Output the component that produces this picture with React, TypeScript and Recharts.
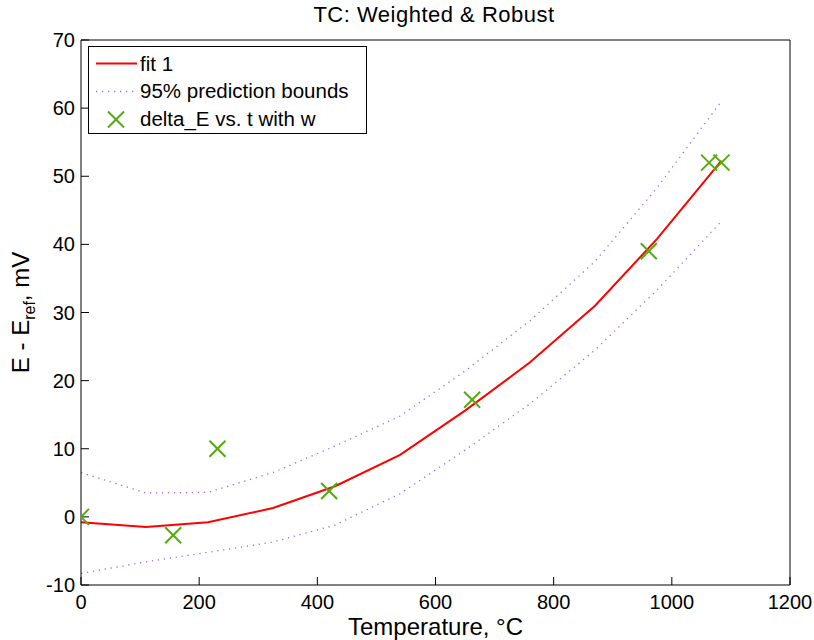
import React from "react";
import { ComposedChart, Line, Scatter, XAxis, YAxis } from "recharts";

// fit curve and 95% prediction bounds, sampled along temperature
const fitT = [0, 110, 215, 325, 430, 540, 650, 760, 870, 975, 1084];
const fitE = [-0.8, -1.5, -0.8, 1.3, 4.5, 9.1, 15.6, 22.7, 31.0, 40.8, 52.3];
const upperE = [6.5, 3.5, 3.6, 6.5, 10.4, 14.8, 21.4, 28.8, 37.5, 48.3, 61.0];
const lowerE = [-8.3, -6.6, -5.2, -3.7, -1.2, 3.4, 9.8, 16.6, 24.5, 33.3, 43.4];

// measured points (delta_E vs. t)
const ptT = [0, 156, 231, 420, 662, 961, 1063, 1084];
const ptE = [0, -2.7, 10, 3.8, 17.2, 39, 52, 52];

const xTicks = [0, 200, 400, 600, 800, 1000, 1200];
const yTicks = [-10, 0, 10, 20, 30, 40, 50, 60, 70];

const RED = "#ff0000";
const PURPLE = "#9b6cf5";
const GREEN = "#55aa11";
const FONT = "'Liberation Sans', Arial, Helvetica, sans-serif";

const fitData = fitT.map((t, i) => ({ t, e: fitE[i] }));
const upperData = fitT.map((t, i) => ({ t, e: upperE[i] }));
const lowerData = fitT.map((t, i) => ({ t, e: lowerE[i] }));
const pointData = ptT.map((t, i) => ({ t, e: ptE[i] }));

function Cross(props: any) {
  const { cx, cy } = props;
  const s = 8;
  return (
    <g stroke={GREEN} strokeWidth={2}>
      <line x1={cx - s} y1={cy - s} x2={cx + s} y2={cy + s} />
      <line x1={cx - s} y1={cy + s} x2={cx + s} y2={cy - s} />
    </g>
  );
}

const tickStyle = { fontSize: 20, fill: "#000", fontFamily: FONT };

export default function App() {
  return (
    <div style={{ position: "absolute", left: 0, top: 0, width: 814, height: 640, background: "#fff" }}>
      <ComposedChart
        width={814}
        height={640}
        margin={{ top: 30, right: 14, left: 0, bottom: 0 }}
        style={{ fontFamily: FONT }}
      >
        <XAxis
          type="number"
          dataKey="t"
          domain={[0, 1200]}
          ticks={xTicks}
          interval={0}
          height={55}
          tickSize={-8}
          tickMargin={18}
          tick={tickStyle}
          stroke="#000"
          allowDataOverflow
        />
        <XAxis
          xAxisId="top"
          orientation="top"
          type="number"
          domain={[0, 1200]}
          ticks={xTicks}
          interval={0}
          height={10}
          tickSize={-8}
          tickFormatter={() => ""}
          stroke="#000"
        />
        <YAxis
          type="number"
          domain={[-10, 70]}
          ticks={yTicks}
          interval={0}
          width={81}
          tickSize={-8}
          tickMargin={14}
          tick={tickStyle}
          stroke="#000"
          allowDataOverflow
        />
        <YAxis
          yAxisId="right"
          orientation="right"
          type="number"
          domain={[-10, 70]}
          ticks={yTicks}
          interval={0}
          width={10}
          tickSize={-8}
          tickFormatter={() => ""}
          stroke="#000"
        />
        <Line
          data={upperData}
          dataKey="e"
          type="linear"
          stroke={PURPLE}
          strokeWidth={1.3}
          strokeDasharray="1.3 4.7"
          dot={false}
          isAnimationActive={false}
        />
        <Line
          data={lowerData}
          dataKey="e"
          type="linear"
          stroke={PURPLE}
          strokeWidth={1.3}
          strokeDasharray="1.3 4.7"
          dot={false}
          isAnimationActive={false}
        />
        <Line
          data={fitData}
          dataKey="e"
          type="linear"
          stroke={RED}
          strokeWidth={2}
          dot={false}
          isAnimationActive={false}
        />
        <Scatter data={pointData} dataKey="e" shape={<Cross />} isAnimationActive={false} />
      </ComposedChart>

      <svg
        width={814}
        height={640}
        style={{ position: "absolute", left: 0, top: 0, pointerEvents: "none", fontFamily: FONT }}
      >
        <text x={434} y={22} fontSize={22} letterSpacing={0.5} textAnchor="middle" fill="#000">
          TC: Weighted &amp; Robust
        </text>
        <text x={435.5} y={634.5} fontSize={24} textAnchor="middle" fill="#000">
          Temperature, °C
        </text>
        <text
          x={28.5}
          y={312.5}
          fontSize={24}
          textAnchor="middle"
          fill="#000"
          transform="rotate(-90 28.5 312.5)"
        >
          E - E
          <tspan fontSize={16} dy={6}>ref</tspan>
          <tspan dy={-6}>, mV</tspan>
        </text>

        <rect x={88.5} y={46.5} width={278} height={87} fill="#fff" stroke="#000" strokeWidth={1} />
        <line x1={96} y1={63.5} x2={137} y2={63.5} stroke={RED} strokeWidth={2} />
        <line x1={96} y1={91.5} x2={137} y2={91.5} stroke={PURPLE} strokeWidth={1.3} strokeDasharray="1.3 4.7" />
        <g stroke={GREEN} strokeWidth={2}>
          <line x1={108} y1={111.5} x2={124} y2={127.5} />
          <line x1={108} y1={127.5} x2={124} y2={111.5} />
        </g>
        <text x={140} y={70.5} fontSize={20.5} fill="#000">fit 1</text>
        <text x={140} y={98} fontSize={20.5} fill="#000">95% prediction bounds</text>
        <text x={140} y={126} fontSize={20.5} fill="#000">delta_E vs. t with w</text>
      </svg>
    </div>
  );
}
